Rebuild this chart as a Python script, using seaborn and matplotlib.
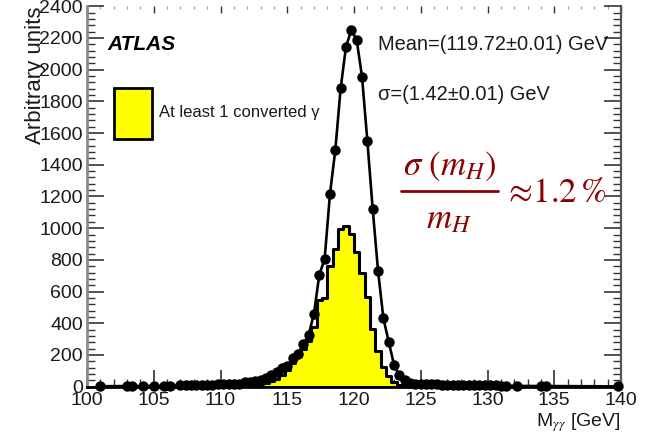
import numpy as np
import pandas as pd
import seaborn as sns
import matplotlib.pyplot as plt
from matplotlib.patches import Rectangle
from matplotlib.lines import Line2D
from matplotlib.ticker import MultipleLocator

sns.set_style("ticks")
plt.rcParams["font.family"] = ["Liberation Sans", "DejaVu Sans"]
plt.rcParams["mathtext.fontset"] = "stix"

# All photons: binned diphoton mass (bin centres, arbitrary units)
mass_all = [101.0, 103.0, 103.4, 104.2, 105.0, 105.8, 106.2,
            107.0, 107.4, 107.8, 108.2, 108.6, 109.0, 109.4, 109.8, 110.2,
            110.6, 111.0, 111.4, 111.8, 112.2, 112.6, 113.0, 113.4, 113.8,
            114.2, 114.6, 115.0, 115.4, 115.8, 116.2, 116.6, 117.0, 117.4,
            117.8, 118.2, 118.6, 119.0, 119.4, 119.8, 120.2, 120.6, 121.0,
            121.4, 121.8, 122.2, 122.6, 123.0, 123.4, 123.8, 124.2, 124.6,
            125.0, 125.4, 125.8, 126.2, 126.6, 127.0, 127.4, 127.8, 128.2,
            128.6, 129.0, 129.4, 129.8, 130.2, 130.6, 131.0, 131.4, 132.2,
            134.0, 134.4, 139.8]
counts_all = [3, 4, 4, 4, 5, 5, 6,
              8, 9, 10, 10, 11, 12, 13, 14, 15,
              16, 18, 20, 28, 32, 35, 45, 57, 74,
              94, 117, 133, 178, 207, 269, 326, 460, 706,
              805, 1215, 1493, 1882, 2145, 2250, 2187, 1956, 1550,
              1121, 732, 432, 284, 137, 71, 44, 25, 20,
              18, 16, 15, 14, 13, 13, 12, 11, 11,
              10, 10, 9, 9, 8, 8, 7, 7, 5,
              4, 4, 2]

# At least one converted photon: histogram contents, 0.4 GeV bins from 109.2 GeV
conv_range = (109.2, 125.2)
conv_binwidth = 0.4
counts_conv = [1, 1, 2, 2, 2, 3, 4, 6, 10, 16,
               25, 35, 51, 74, 104, 148, 193, 237, 287, 378,
               548, 558, 761, 869, 993, 1013, 963, 852, 719, 568,
               361, 227, 126, 67, 32, 12, 5, 3, 2, 1]
centres_conv = conv_range[0] + conv_binwidth * (np.arange(len(counts_conv)) + 0.5)

x_ticks = [100, 105, 110, 115, 120, 125, 130, 135, 140]
y_ticks = [0, 200, 400, 600, 800, 1000, 1200, 1400, 1600, 1800, 2000, 2200, 2400]

mean_text = "Mean=(119.72\u00b10.01) GeV"
sigma_text = "\u03c3=(1.42\u00b10.01) GeV"
legend_text = "At least 1 converted \u03b3"
resolution_num = r"$\sigma\ (m_H)$"
resolution_den = r"$m_H$"
resolution_val = r"$\approx\!1.2\,\%$"

df_all = pd.DataFrame({"m": mass_all, "n": counts_all})
df_conv = pd.DataFrame({"m": centres_conv, "n": counts_conv})

W, H = 651, 434
fig = plt.figure(figsize=(W / 100, H / 100), dpi=100)
ax = fig.add_axes([87 / W, 1 - 386.7 / H, 534 / W, 380.5 / H])


def fx(px):
    return px / W


def fy(py):
    return 1 - py / H


def fit_width(txt, width_px):
    """Rescale a text's font so its rendered width is width_px pixels."""
    renderer = fig.canvas.get_renderer()
    w = txt.get_window_extent(renderer).width
    txt.set_fontsize(txt.get_fontsize() * width_px / w)


sns.histplot(data=df_conv, x="m", weights="n", binwidth=conv_binwidth,
             binrange=conv_range, element="step", fill=True,
             color="#ffff00", edgecolor="black", linewidth=2.2, alpha=1.0,
             ax=ax, zorder=2)

sns.lineplot(data=df_all, x="m", y="n", color="black", linewidth=1.9,
             marker="o", markersize=7.5, markeredgewidth=0, ax=ax, zorder=3)
for ln in ax.lines:
    ln.set_clip_on(False)

ax.set_xlim(100, 140)
ax.set_ylim(0, 2400)
ax.set_xticks(x_ticks)
ax.set_yticks(y_ticks)
ax.xaxis.set_minor_locator(MultipleLocator(1))
ax.yaxis.set_minor_locator(MultipleLocator(40))
ax.tick_params(axis="both", which="major", direction="in", length=12,
               width=1.2, color="#333333", labelsize=14, labelcolor="#1a1a1a")
ax.tick_params(axis="both", which="minor", direction="in", length=6,
               width=1.0, color="#333333")
ax.tick_params(axis="x", which="major", pad=4)
ax.tick_params(axis="y", which="major", pad=3, right=True)
ax.tick_params(axis="y", which="minor", right=True)

top = ax.secondary_xaxis("top")
top.set_xticks(x_ticks)
top.xaxis.set_minor_locator(MultipleLocator(1))
top.tick_params(which="major", direction="in", length=5, width=1.0,
                color="#333333", labeltop=False)
top.tick_params(which="minor", direction="in", length=2, width=0.8,
                color="#999999")
top.spines["top"].set_visible(False)

ax.spines["top"].set_visible(False)
ax.spines["left"].set_color("#8a8a8a")
ax.spines["left"].set_linewidth(2.0)
ax.spines["right"].set_color("#555555")
ax.spines["right"].set_linewidth(1.6)
ax.spines["bottom"].set_color("black")
ax.spines["bottom"].set_linewidth(2.0)

ax.set_xlabel(r"M$_{\gamma\gamma}$ [GeV]", loc="right", fontsize=14,
              color="#1a1a1a", labelpad=1)
ax.set_ylabel("")
fig.text(fx(35), fy(144), "Arbitrary units", rotation=90, ha="center",
         va="bottom", fontsize=16, color="#1a1a1a")

fig.text(fx(107), fy(45), "ATLAS", fontsize=15, fontweight="bold",
         fontstyle="italic", va="center", ha="left", color="black")

# legend entry for the converted-photon histogram
fig.patches.append(Rectangle((fx(114), fy(139)), 38 / W, 51 / H,
                             transform=fig.transFigure, facecolor="#ffff00",
                             edgecolor="black", linewidth=2.0))
fig.text(fx(159), fy(113), legend_text, fontsize=12, va="center",
         ha="left", color="#1a1a1a")

t_mean = fig.text(fx(378), fy(45), mean_text, fontsize=14.5, va="center",
                  ha="left", color="#1a1a1a")
t_sigma = fig.text(fx(378), fy(95), sigma_text, fontsize=14.5, va="center",
                   ha="left", color="#1a1a1a")
fit_width(t_mean, 230)
fit_width(t_sigma, 171)

# mass resolution
red = "#8b0000"
fig.text(fx(450), fy(166), resolution_num, fontsize=25, color=red,
         va="center", ha="center")
fig.lines.append(Line2D([fx(401), fx(498)], [fy(191), fy(191)],
                        transform=fig.transFigure, color=red, linewidth=2.0))
fig.text(fx(449), fy(219), resolution_den, fontsize=25, color=red,
         va="center", ha="center")
fig.text(fx(503), fy(192), resolution_val, fontsize=25, color=red,
         va="center", ha="left")

fig.savefig("out.png", dpi=100)
